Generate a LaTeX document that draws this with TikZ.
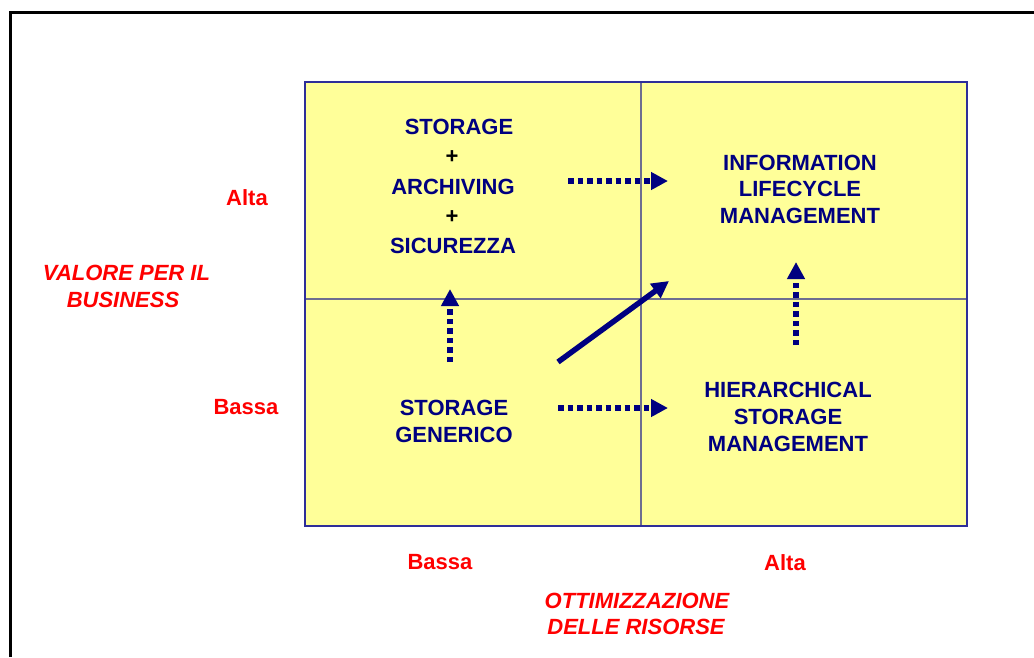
\documentclass[tikz,border=0pt]{standalone}
\usepackage{fontspec}
\setmainfont{Liberation Sans}
\usetikzlibrary{arrows.meta}
\definecolor{quadyellow}{HTML}{FFFF99}
\definecolor{navy}{HTML}{000080}
\definecolor{gridline}{HTML}{6E6E90}
\definecolor{gridborder}{HTML}{2E2E99}
\definecolor{lblred}{HTML}{FF0000}
\tikzset{
  quadtext/.style={text=navy, font=\fontsize{22}{27}\selectfont\bfseries, align=center, inner sep=0pt},
  plustext/.style={text=black, font=\fontsize{22}{27}\selectfont\bfseries, inner sep=0pt},
  axislabel/.style={text=lblred, font=\fontsize{22}{27}\selectfont\bfseries, align=center, inner sep=0pt},
  axistitle/.style={text=lblred, font=\fontsize{22}{27}\selectfont\bfseries\itshape, align=center, inner sep=0pt},
  dotarrow/.style={navy, line width=5.5pt, dash pattern=on 5.5pt off 4pt, -{Triangle[length=17pt,width=17pt]}},
  solidarrow/.style={navy, line width=5.5pt, -{Triangle[length=17pt,width=17pt]}},
}
\begin{document}
\begin{tikzpicture}[x=1pt,y=-1pt]
\useasboundingbox (0,0) rectangle (1034,657);
% outer frame
\draw[black, line width=3pt] (10,657) -- (10,12) -- (1034,12);
% quadrant grid
\fill[quadyellow] (305,82) rectangle (967,526);
\draw[gridline, line width=1.2pt] (641,82) -- (641,526);
\draw[gridline, line width=1.2pt] (305,299) -- (967,299);
\draw[gridborder, line width=1.2pt] (305,82) rectangle (967,526);
% quadrant texts
\node[quadtext] (tl1) at (459,127) {STORAGE};
\node[plustext] (tl2) at (452,157) {+};
\node[quadtext] (tl3) at (453,187) {ARCHIVING};
\node[plustext] (tl4) at (452,217) {+};
\node[quadtext] (tl5) at (453,246) {SICUREZZA};
\node[quadtext, execute at begin node=\setlength{\baselineskip}{26.5pt}] (ilm) at (800,189) {INFORMATION\\LIFECYCLE\\MANAGEMENT};
\node[quadtext] (gen) at (454,421) {STORAGE\\GENERICO};
\node[quadtext] (hsm) at (788,417) {HIERARCHICAL\\STORAGE\\MANAGEMENT};
% axis labels
\node[axislabel] (altay) at (247,198) {Alta};
\node[axislabel] (bassay) at (246,407) {Bassa};
\node[axislabel] (bassax) at (440,562) {Bassa};
\node[axislabel] (altax) at (785,563) {Alta};
\node[axistitle] (vtitle1) at (126.5,273) {VALORE PER IL};
\node[axistitle] (vtitle2) at (123,300) {BUSINESS};
\node[axistitle] (htitle1) at (637,601) {OTTIMIZZAZIONE};
\node[axistitle] (htitle2) at (636,627) {DELLE RISORSE};
% arrow anchors
\coordinate (a1s) at (568,181); \coordinate (a1e) at (668,181);
\coordinate (a2s) at (558,408); \coordinate (a2e) at (668,408);
\coordinate (a3s) at (450,362); \coordinate (a3e) at (450,289);
\coordinate (a4s) at (796,345); \coordinate (a4e) at (796,262);
\coordinate (a5s) at (558,362); \coordinate (a5e) at (669,281);
\draw[dotarrow] (a1s) -- (a1e);
\draw[dotarrow] (a2s) -- (a2e);
\draw[dotarrow] (a3s) -- (a3e);
\draw[dotarrow] (a4s) -- (a4e);
\draw[solidarrow] (a5s) -- (a5e);
\end{tikzpicture}
\end{document}
